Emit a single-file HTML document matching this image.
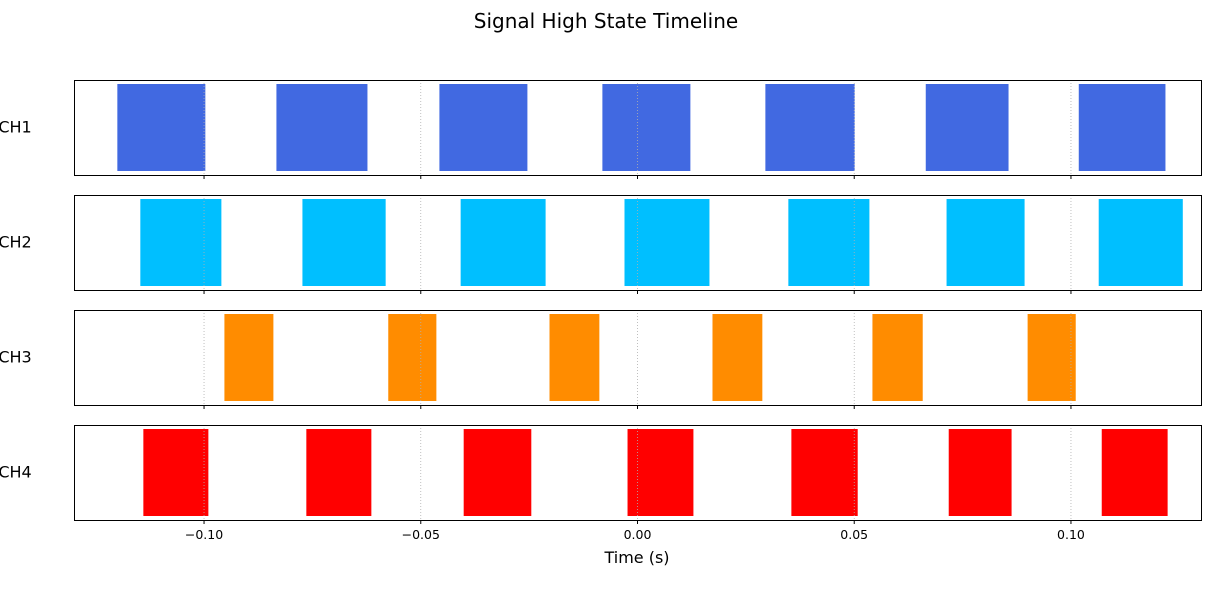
<!DOCTYPE html>
<html><head><meta charset="utf-8"><style>
body{margin:0;background:#fff;font-family:"Liberation Sans","DejaVu Sans",sans-serif}
svg text{font-family:"DejaVu Sans","Liberation Sans",sans-serif}
</style></head><body>
<svg id="chart" width="1213" height="600" xmlns="http://www.w3.org/2000/svg">
<text x="606" y="28" font-size="20" text-anchor="middle">Signal High State Timeline</text>
<g id="plots"></g>
<text x="637" y="563" font-size="16" text-anchor="middle">Time (s)</text>
</svg>
<script>
const channels = ["CH1","CH2","CH3","CH4"];
const colors = ["#4169e1","#00bfff","#ff8c00","#ff0000"];
const ch1Starts = [-0.120,-0.0833,-0.0457,-0.0081,0.0295,0.0665,0.1018];
const ch1Ends   = [-0.0997,-0.0623,-0.0254,0.0122,0.0501,0.0856,0.1218];
const ch2Starts = [-0.1147,-0.0773,-0.0408,-0.0030,0.0348,0.0713,0.1064];
const ch2Ends   = [-0.0960,-0.0581,-0.0212,0.0166,0.0535,0.0893,0.1258];
const ch3Starts = [-0.0953,-0.0575,-0.0203,0.0173,0.0542,0.0900];
const ch3Ends   = [-0.0840,-0.0464,-0.0088,0.0288,0.0658,0.1011];
const ch4Starts = [-0.1140,-0.0764,-0.0401,-0.0023,0.0355,0.0718,0.1071];
const ch4Ends   = [-0.0990,-0.0614,-0.0245,0.0129,0.0508,0.0863,0.1223];
const xTicks = [-0.10,-0.05,0.00,0.05,0.10];
const xTickLabels = ["−0.10","−0.05","0.00","0.05","0.10"];
const starts=[ch1Starts,ch2Starts,ch3Starts,ch4Starts], ends=[ch1Ends,ch2Ends,ch3Ends,ch4Ends];
const NS="http://www.w3.org/2000/svg";
const X0=74,X1=1201,xmin=-0.13,xmax=0.13;
const xs=v=>X0+(v-xmin)/(xmax-xmin)*(X1-X0);
const g=document.getElementById('plots');
function mk(t,a){const e=document.createElementNS(NS,t);for(const k in a)e.setAttribute(k,a[k]);g.appendChild(e);return e;}
channels.forEach((ch,i)=>{
  const top=80+i*115,h=95;
  starts[i].forEach((s,j)=>{
    const r=mk('rect',{x:xs(s),y:top+4,width:xs(ends[i][j])-xs(s),height:h-8,fill:colors[i]});
    
    
  });
  xTicks.forEach(t=>{
    const l=mk('line',{x1:xs(t),x2:xs(t),y1:top,y2:top+h,stroke:'#b0b0b0','stroke-width':0.8,'stroke-dasharray':'1,2'});
    
    
    const tk=mk('line',{x1:xs(t),x2:xs(t),y1:top+h,y2:top+h+4,stroke:'#000','stroke-width':1});
    
    
  });
  const f=mk('rect',{x:X0+0.5,y:top+0.5,width:X1-X0,height:h,fill:'none',stroke:'#000','stroke-width':1,'shape-rendering':'crispEdges'});
  
  
  const lb=mk('text',{x:15,y:top+h/2+5,'font-size':16,'text-anchor':'middle'});
  lb.textContent=ch;
  
  
});
xTicks.forEach((t,k)=>{
  const tx=mk('text',{x:xs(t),y:539,'font-size':12.5,'text-anchor':'middle'});
  tx.textContent=xTickLabels[k];
  
  
});
</script>
</body></html>
